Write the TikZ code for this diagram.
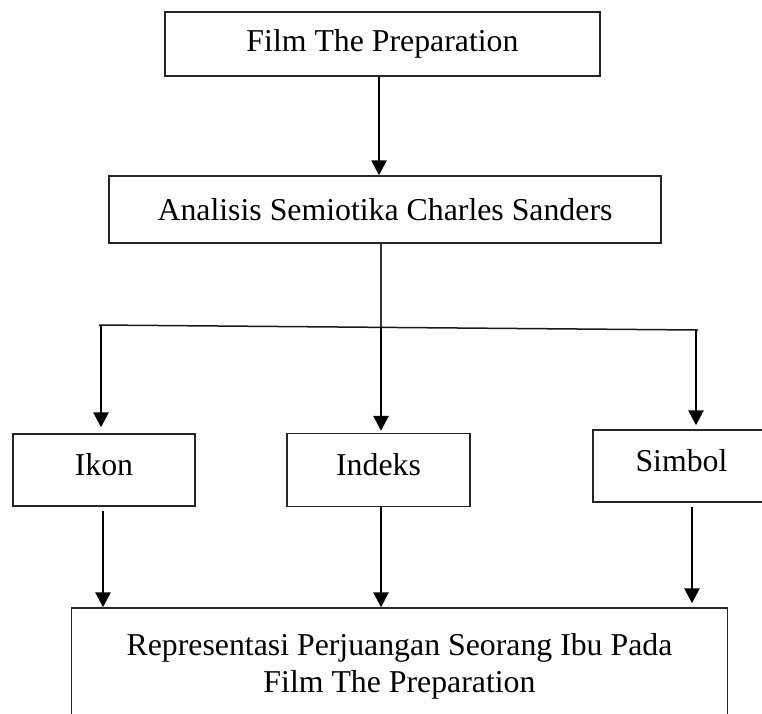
\documentclass[tikz,border=0pt]{standalone}
\usepackage{fontspec}
\setmainfont{Liberation Serif}
\usetikzlibrary{arrows.meta}
\begin{document}
\begin{tikzpicture}[x=1pt,y=-1pt,
  box/.style={draw=black!85, line width=1.4pt, rectangle, inner sep=0pt,
    font=\fontsize{31.8}{37}\selectfont, align=center},
  small/.style={text depth=12pt},
  arr/.style={line width=2.6pt, -{Triangle[length=15pt,width=15pt]}},
  thinline/.style={line width=1.1pt, draw=black!80},
  hline/.style={line width=1.5pt, draw=black!90}]
\useasboundingbox (0,0) rectangle (762,713);

\node[box, minimum width=435pt, minimum height=64pt] (film) at (382.5,44) {Film The Preparation};
\node[box, minimum width=552pt, minimum height=67pt] (analisis) at (385,209.5) {Analisis Semiotika Charles Sanders};
\node[box, small, minimum width=182pt, minimum height=72pt] (ikon) at (104,470) {Ikon};
\node[box, small, minimum width=183pt, minimum height=73pt] (indeks) at (378.5,470) {Indeks};
\node[box, small, minimum width=177pt, minimum height=72pt] (simbol) at (681.5,466) {Simbol};
\node[box, minimum width=656pt, minimum height=116pt] (hasil) at (399.5,666) {Representasi Perjuangan Seorang Ibu Pada\\Film The Preparation};

\coordinate (a1) at (379,0);
\draw[arr] (film.south -| a1) -- (analisis.north -| a1);

\coordinate (jl) at (101,325);
\coordinate (jm) at (381,327);
\coordinate (jr) at (696,330);
\draw[thinline] (analisis.south -| jm) -- (jm);
\draw[hline] ([xshift=-2pt]jl) -- ([xshift=2pt]jr);
\draw[arr, shorten >=6pt] (jl) -- (jl |- ikon.north);
\draw[arr, shorten >=2pt] (jm) -- (jm |- indeks.north);
\draw[arr, shorten >=4pt] (jr) -- (jr |- simbol.north);

\coordinate (bl) at (103,0);
\coordinate (bm) at (381,0);
\coordinate (br) at (692,0);
\draw[arr, shorten <=4pt] (ikon.south -| bl) -- (hasil.north -| bl);
\draw[arr] (indeks.south -| bm) -- (hasil.north -| bm);
\draw[arr, shorten <=4pt, shorten >=4pt] (simbol.south -| br) -- (hasil.north -| br);
\end{tikzpicture}
\end{document}
